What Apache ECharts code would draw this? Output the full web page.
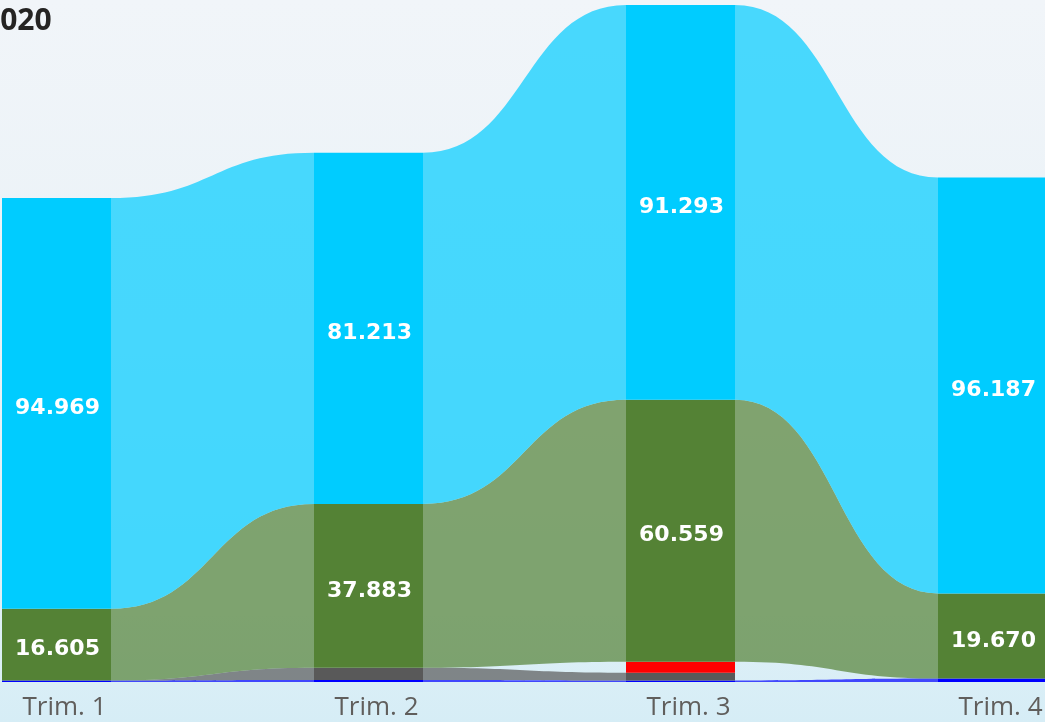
<!DOCTYPE html>
<html>
<head>
<meta charset="utf-8">
<script src="https://cdn.jsdelivr.net/npm/echarts@6/dist/echarts.min.js"></script>
<style>
  html, body {
    margin: 0;
    padding: 0;
    overflow: hidden;
  }
  body {
    width: 1045px;
    height: 722px;
    background: linear-gradient(180deg, #f1f5f9 0%, #eaf2f7 45%, #dff0f7 85%, #d6edf6 100%);
  }
  #chart {
    width: 1045px;
    height: 722px;
  }
</style>
</head>
<body>
<div id="chart"></div>
<script>
// quarters
const categories = ['Trim. 1', 'Trim. 2', 'Trim. 3', 'Trim. 4']
const titleText = '2020'

// series values, bottom of the stack first
const blueValues = [350, 450, 350, 800]
const greyValues = [0, 2850, 1800, null]
const redValues = [null, null, 2540, null]
const greenValues = [16605, 37883, 60559, 19670]
const cyanValues = [94969, 81213, 91293, 96187]

const BAR_W = 109

const stack = [
  { name: 'Blu', data: blueValues, color: '#0000ff', label: false },
  { name: 'Grigio', data: greyValues, color: '#595959', label: false },
  { name: 'Rosso', data: redValues, color: '#ff0000', label: false },
  { name: 'Verde', data: greenValues, color: '#548235', label: true },
  { name: 'Ciano', data: cyanValues, color: '#00ccff', label: true }
]

// base of every segment (sum of what lies under it)
const bases = stack.map(() => [])
categories.forEach((c, i) => {
  let sum = 0
  stack.forEach((s, k) => {
    bases[k][i] = sum
    if (s.data[i] != null) sum += s.data[i]
  })
})

function formatIt(v) {
  return String(Math.round(v)).replace(/\B(?=(\d{3})+(?!\d))/g, '.')
}

function renderRibbons(params, api) {
  const i = api.value(0)
  const children = []
  stack.forEach((s, k) => {
    const v0 = s.data[i]
    const v1 = s.data[i + 1]
    if (v0 == null || v1 == null) return
    const b0 = bases[k][i]
    const b1 = bases[k][i + 1]
    const x0 = api.coord([i, 0])[0] + BAR_W / 2
    const x1 = api.coord([i + 1, 0])[0] - BAR_W / 2
    const xm = (x0 + x1) / 2
    const t0 = api.coord([i, b0 + v0])[1]
    const d0 = api.coord([i, b0])[1]
    const t1 = api.coord([i + 1, b1 + v1])[1]
    const d1 = api.coord([i + 1, b1])[1]
    const path = 'M' + x0 + ' ' + t0 +
      ' C' + xm + ' ' + t0 + ' ' + xm + ' ' + t1 + ' ' + x1 + ' ' + t1 +
      ' L' + x1 + ' ' + d1 +
      ' C' + xm + ' ' + d1 + ' ' + xm + ' ' + d0 + ' ' + x0 + ' ' + d0 + ' Z'
    children.push({
      type: 'path',
      shape: { pathData: path },
      style: { fill: s.color, opacity: 0.7 }
    })
  })
  return { type: 'group', children: children }
}

const chart = echarts.init(document.getElementById('chart'), null, { renderer: 'canvas' })

const barSeries = stack.map(s => ({
  name: s.name,
  type: 'bar',
  stack: 'totale',
  barWidth: BAR_W,
  z: 3,
  data: s.data,
  itemStyle: { color: s.color },
  label: {
    show: s.label,
    position: 'inside',
    offset: [1, 5],
    color: '#ffffff',
    fontFamily: 'DejaVu Sans',
    fontWeight: 'bold',
    fontSize: 22,
    formatter: p => formatIt(p.value)
  },
  emphasis: { disabled: true },
  animation: false
}))

chart.setOption({
  animation: false,
  grid: {
    left: -99.5,
    width: 1248,
    top: 0,
    bottom: 40,
    containLabel: false,
    outerBoundsMode: 'none'
  },
  xAxis: {
    type: 'category',
    data: categories,
    axisLine: { show: false },
    axisTick: { show: false },
    axisLabel: {
      color: '#605e5c',
      fontFamily: 'Open Sans',
      fontSize: 26,
      margin: 13,
      padding: [0, 0, 0, 16]
    }
  },
  yAxis: {
    type: 'value',
    min: 0,
    max: 157700,
    show: false,
    splitLine: { show: false }
  },
  graphic: [{
    type: 'text',
    x: -17,
    y: 6,
    style: {
      text: titleText,
      font: 'bold 30px "Open Sans"',
      fill: '#252423'
    }
  }],
  series: [{
    type: 'custom',
    name: 'nastri',
    z: 1,
    renderItem: renderRibbons,
    data: [[0], [1], [2]],
    encode: { x: 0 },
    silent: true,
    animation: false
  }].concat(barSeries)
})
</script>
</body>
</html>
